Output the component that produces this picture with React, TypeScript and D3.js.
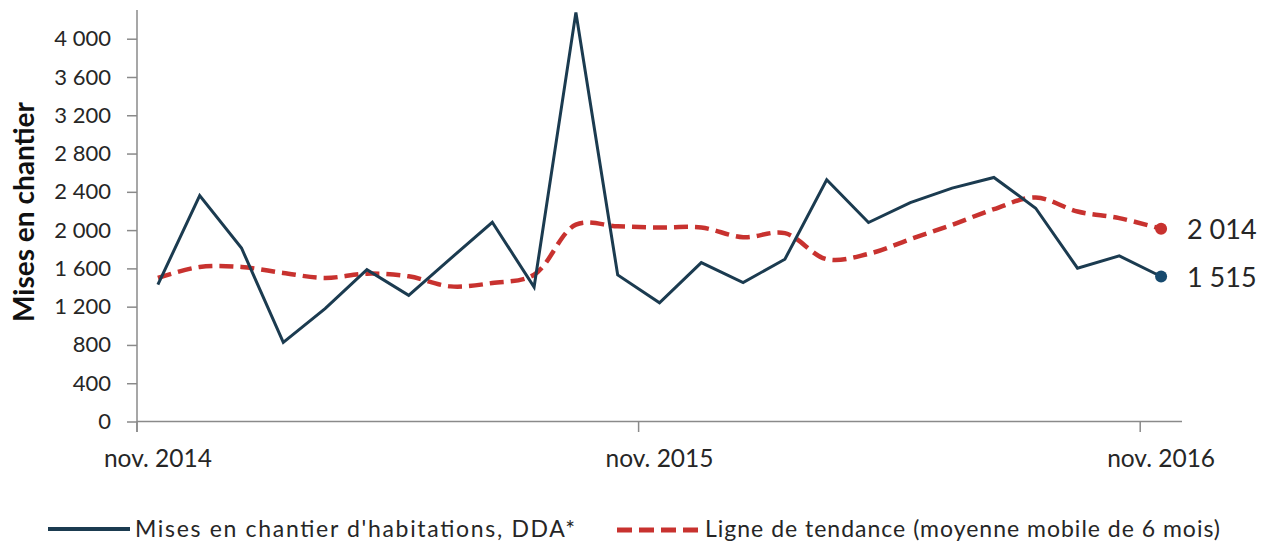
import React, { useEffect, useRef } from 'react';
import * as d3 from 'd3';

// months shown on the category axis (one point per month)
const months = [
  'nov. 2014', 'déc. 2014', 'janv. 2015', 'févr. 2015', 'mars 2015', 'avr. 2015',
  'mai 2015', 'juin 2015', 'juil. 2015', 'août 2015', 'sept. 2015', 'oct. 2015',
  'nov. 2015', 'déc. 2015', 'janv. 2016', 'févr. 2016', 'mars 2016', 'avr. 2016',
  'mai 2016', 'juin 2016', 'juil. 2016', 'août 2016', 'sept. 2016', 'oct. 2016',
  'nov. 2016',
];

const misesEnChantier = [
  1430, 2361, 1813, 826, 1180, 1587, 1318, 1702, 2082, 1405, 4275, 1531,
  1240, 1661, 1452, 1696, 2526, 2079, 2288, 2439, 2550, 2229, 1602, 1731,
  1515,
];

const tendance = [
  1500, 1615, 1615, 1552, 1500, 1545, 1517, 1412, 1447, 1534, 2057, 2040,
  2027, 2027, 1926, 1968, 1696, 1752, 1905, 2055, 2219, 2341, 2194, 2125,
  2014,
];

const yTicks = [0, 400, 800, 1200, 1600, 2000, 2400, 2800, 3200, 3600, 4000];
const xTickLabels = ['nov. 2014', 'nov. 2015', 'nov. 2016'];

const legendLabels = [
  "Mises en chantier d'habitations, DDA*",
  'Ligne de tendance (moyenne mobile de 6 mois)',
];

const BLUE = '#1b3b50';
const BLUE_DOT = '#174a6e';
const RED = '#c8322f';
const AXIS = '#8a8a8a';
const TEXT = '#262626';
const FONT = 'Lato, "Open Sans", sans-serif';

const fr = d3.formatLocale({
  decimal: ',',
  thousands: '\u00a0',
  grouping: [3],
  currency: ['', ' €'],
});
const fmt = fr.format(',d');

function App() {
  const ref = useRef<SVGSVGElement>(null);

  useEffect(() => {
    const svg = d3.select(ref.current);
    svg.selectAll('*').remove();

    const x = d3.scaleBand<string>().domain(months).range([137, 1182]).padding(0);
    const y = d3.scaleLinear().domain([0, 4300]).range([421.5, 10]);
    const cx = (i: number) => (x(months[i]) as number) + x.bandwidth() / 2;

    // y axis
    const gy = svg.append('g').attr('transform', 'translate(137,0)');
    gy.call(d3.axisLeft(y).tickValues(yTicks).tickSize(10).tickPadding(16).tickFormat((d) => fmt(d as number)));
    gy.select('.domain').remove();
    gy.append('line').attr('x1', 0).attr('x2', 0).attr('y1', 10).attr('y2', 432).attr('stroke', AXIS).attr('stroke-width', 1.5);
    gy.selectAll('.tick line').attr('stroke', AXIS).attr('stroke-width', 1.5);
    gy.selectAll('.tick text')
      .attr('fill', TEXT)
      .style('font-family', FONT)
      .style('font-size', '22px');

    // x axis
    const gx = svg.append('g');
    gx.append('line').attr('x1', 137).attr('x2', 1182).attr('y1', 421.5).attr('y2', 421.5).attr('stroke', AXIS).attr('stroke-width', 1.5);
    xTickLabels.forEach((lab) => {
      const i = months.indexOf(lab);
      const x0 = x(lab) as number;
      gx.append('line').attr('x1', x0).attr('x2', x0).attr('y1', 421.5).attr('y2', 432).attr('stroke', AXIS).attr('stroke-width', 1.5);
      gx.append('text')
        .attr('x', cx(i))
        .attr('y', 467)
        .attr('text-anchor', 'middle')
        .attr('fill', TEXT)
        .style('font-family', FONT)
        .style('font-size', '24.5px')
        .text(lab);
    });

    // y title
    svg.append('text')
      .attr('transform', 'translate(34,212) rotate(-90)')
      .attr('text-anchor', 'middle')
      .attr('fill', '#111')
      .style('font-family', FONT)
      .style('font-weight', 'bold')
      .style('font-size', '28px')
      .text('Mises en chantier');

    // trend line
    const trendLine = d3.line<number>().x((d, i) => cx(i)).y((d) => y(d)).curve(d3.curveCatmullRom);
    svg.append('path')
      .datum(tendance)
      .attr('fill', 'none')
      .attr('stroke', RED)
      .attr('stroke-width', 4.5)
      .attr('stroke-dasharray', '14 7')
      .attr('d', trendLine);

    // main series
    const line = d3.line<number>().x((d, i) => cx(i)).y((d) => y(d));
    svg.append('path')
      .datum(misesEnChantier)
      .attr('fill', 'none')
      .attr('stroke', BLUE)
      .attr('stroke-width', 3)
      .attr('stroke-linejoin', 'miter')
      .attr('d', line);

    // last points + labels
    const last = months.length - 1;
    [
      { v: tendance[last], c: RED },
      { v: misesEnChantier[last], c: BLUE_DOT },
    ].forEach((p) => {
      svg.append('circle').attr('cx', cx(last)).attr('cy', y(p.v)).attr('r', 6).attr('fill', p.c);
      svg.append('text')
        .attr('x', 1187)
        .attr('y', y(p.v) + 10)
        .attr('fill', TEXT)
        .style('font-family', FONT)
        .style('font-size', '27px')
        .text(fmt(p.v));
    });

    // legend
    const lg = svg.append('g');
    lg.append('line').attr('x1', 48).attr('x2', 130).attr('y1', 529).attr('y2', 529).attr('stroke', BLUE).attr('stroke-width', 4);
    lg.append('text').attr('x', 135).attr('y', 537).attr('fill', TEXT)
      .attr('textLength', 440).attr('lengthAdjust', 'spacing')
      .style('font-family', FONT).style('font-size', '23px').text(legendLabels[0]);
    lg.append('line').attr('x1', 617).attr('x2', 698).attr('y1', 530).attr('y2', 530).attr('stroke', RED)
      .attr('stroke-width', 5).attr('stroke-dasharray', '15 7');
    lg.append('text').attr('x', 705).attr('y', 537).attr('fill', TEXT)
      .attr('textLength', 515).attr('lengthAdjust', 'spacing')
      .style('font-family', FONT).style('font-size', '23px').text(legendLabels[1]);
  }, []);

  return (
    <svg
      ref={ref}
      width={1268}
      height={544}
      style={{ position: 'absolute', left: 0, top: 0, background: '#fff' }}
    />
  );
}

export default App;
